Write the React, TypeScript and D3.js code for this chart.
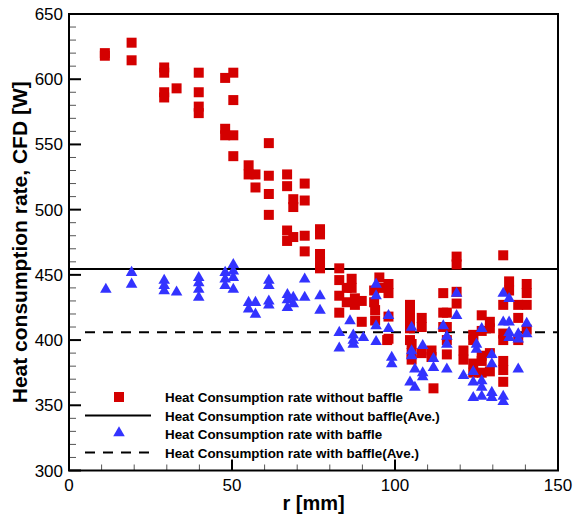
import React, { useEffect, useRef } from 'react';
import * as d3 from 'd3';

// [r (mm), heat consumption rate (W)]
const withoutBaffle: [number, number][] = [
  [11, 618], [11, 620], [19.2, 628], [19.2, 614.5],
  [29.2, 609], [29.2, 605], [29.2, 590], [29.2, 586], [33, 593],
  [39.8, 605], [39.8, 590], [39.8, 579], [39.8, 574],
  [47.9, 601], [47.9, 562], [47.9, 557],
  [50.4, 605], [50.4, 584], [50.4, 557], [50.4, 541],
  [55.1, 534], [55.1, 527], [57.2, 527], [57.2, 517],
  [61.3, 551], [61.3, 526], [61.3, 512], [61.3, 496],
  [66.9, 527], [66.9, 518], [66.9, 484], [66.9, 476],
  [68.8, 508], [68.8, 502], [68.8, 479],
  [72.3, 520], [72.3, 507], [72.3, 480], [72.3, 468],
  [77, 485], [77, 481], [77, 466], [77, 460], [77, 455],
  [82.9, 455], [82.9, 446], [82.9, 434], [82.9, 421],
  [85.2, 440], [85.2, 429], [86.7, 447], [86.7, 440], [87.7, 432], [87.7, 427],
  [89.8, 430], [89.8, 414], [93.6, 438], [93.6, 429], [93.9, 423], [93.9, 415],
  [95.2, 448], [95.2, 440], [98, 443], [98, 436], [98, 418], [98, 401], [97.6, 400],
  [104.6, 427], [104.6, 421], [104.6, 414], [104.6, 409], [104.6, 400],
  [105.1, 397], [105.1, 390], [105.1, 385],
  [108.2, 417], [108.2, 410], [108.2, 390], [111.2, 392], [111.2, 387], [111.8, 363],
  [114.8, 436], [114.8, 421], [114.8, 410],
  [115.9, 421], [115.9, 410], [115.9, 400], [115.9, 389],
  [118.9, 464], [118.9, 458], [118.9, 437], [118.9, 428],
  [121, 392], [121, 385], [124, 404], [124, 400], [124, 382], [124, 375],
  [126.6, 419], [126.6, 407], [126.6, 388], [126.6, 384], [126.6, 375],
  [129.1, 414], [129.1, 409], [129.1, 390], [129.1, 376],
  [133.2, 465], [133.2, 427], [133.2, 405], [133.2, 400], [133.2, 384], [133.2, 377], [133.2, 368],
  [135, 445], [135, 438], [137.8, 427], [137.8, 417], [137.8, 400],
  [140.4, 443], [140.4, 436], [140.4, 427], [140.4, 408],
];

const withBaffle: [number, number][] = [
  [11.3, 438], [19.2, 451], [19.2, 442],
  [29.2, 445], [29.2, 441], [29.2, 437], [33, 436],
  [39.8, 447], [39.8, 443], [39.8, 438], [39.8, 432],
  [47.9, 451], [47.9, 446], [47.9, 441],
  [50.4, 457], [50.4, 452], [50.4, 447], [50.4, 438],
  [55.1, 428], [55.1, 423], [57.2, 428], [57.2, 419],
  [61.3, 445], [61.3, 441], [61.3, 429], [61.3, 426],
  [67, 434], [67, 430], [67, 424], [68.8, 432], [68.8, 427],
  [72.3, 446], [72.3, 432], [77, 433], [77, 422],
  [82.9, 405], [82.9, 393], [86.2, 414], [87.2, 403], [87.2, 399], [87.2, 396], [90.3, 401],
  [94.2, 442], [94.2, 433], [94.2, 410], [94.2, 398],
  [98, 418], [98, 408], [99, 386], [99, 381],
  [104.6, 367], [105.1, 409], [105.1, 391], [105.1, 387], [106.1, 377], [106.1, 363],
  [108.5, 395], [108.5, 374], [108.5, 371], [111.8, 385], [111.8, 378],
  [114.8, 410], [115.9, 402], [115.9, 396], [115.9, 377],
  [118.9, 435], [118.9, 418], [121, 372],
  [124, 375], [124, 367], [124, 355], [125, 396], [125, 392],
  [126.6, 408], [126.6, 368], [126.6, 363], [126.6, 356],
  [129.7, 388], [129.7, 381], [129.7, 359], [129.7, 355],
  [133.2, 435], [133.2, 413], [133.2, 356], [133.2, 352],
  [135, 431], [135, 413], [135, 405], [135, 401],
  [137.8, 404], [137.8, 400], [137.8, 377], [140.4, 412], [140.4, 404],
];

const withoutBaffleAve = 454.5;
const withBaffleAve = 406;

const xMajor = [0, 50, 100, 150];
const yMajor = [300, 350, 400, 450, 500, 550, 600, 650];

const legendLabels = [
  'Heat Consumption rate without baffle',
  'Heat Consumption rate without baffle(Ave.)',
  'Heat Consumption rate with baffle',
  'Heat Consumption rate with baffle(Ave.)',
];

const RED = '#d40000';
const BLUE = '#3333ff';

const App = () => {
  const ref = useRef<SVGSVGElement>(null);

  useEffect(() => {
    document.body.style.margin = '0';
    const width = 573;
    const height = 516;
    const margin = { top: 14, right: 15, bottom: 45.5, left: 69 };

    const svg = d3.select(ref.current);
    svg.selectAll('*').remove();

    const x = d3.scaleLinear().domain([0, 150]).range([margin.left, width - margin.right]);
    const y = d3.scaleLinear().domain([300, 650]).range([height - margin.bottom, margin.top]);

    const font = 'Arial, "Liberation Sans", sans-serif';

    // minor ticks (inward)
    const xMinor = d3.range(0, 151, 10).filter(v => v % 50 !== 0);
    const yMinor = d3.range(300, 651, 10).filter(v => v % 50 !== 0);

    svg.append('g').selectAll('line').data(xMinor).enter().append('line')
      .attr('x1', d => x(d)).attr('x2', d => x(d))
      .attr('y1', y(300)).attr('y2', y(300) - 6)
      .attr('stroke', '#555').attr('stroke-width', 1);
    svg.append('g').selectAll('line').data(yMinor).enter().append('line')
      .attr('x1', x(0)).attr('x2', x(0) + 7)
      .attr('y1', d => y(d)).attr('y2', d => y(d))
      .attr('stroke', '#555').attr('stroke-width', 1);

    // major ticks
    svg.append('g').selectAll('line').data(xMajor).enter().append('line')
      .attr('x1', d => x(d)).attr('x2', d => x(d))
      .attr('y1', y(300)).attr('y2', y(300) - 11)
      .attr('stroke', '#000').attr('stroke-width', 2);
    svg.append('g').selectAll('line').data(yMajor).enter().append('line')
      .attr('x1', x(0)).attr('x2', x(0) + 12)
      .attr('y1', d => y(d)).attr('y2', d => y(d))
      .attr('stroke', '#000').attr('stroke-width', 2);

    // tick labels
    svg.append('g').selectAll('text').data(xMajor).enter().append('text')
      .attr('x', d => x(d)).attr('y', y(300) + 20)
      .attr('text-anchor', 'middle')
      .attr('font-family', font).attr('font-size', 17)
      .text(d => d);
    svg.append('g').selectAll('text').data(yMajor).enter().append('text')
      .attr('x', x(0) - 6).attr('y', d => y(d) + 6)
      .attr('text-anchor', 'end')
      .attr('font-family', font).attr('font-size', 17)
      .text(d => d);

    // average lines
    svg.append('line')
      .attr('x1', x(0)).attr('x2', x(150))
      .attr('y1', y(withoutBaffleAve)).attr('y2', y(withoutBaffleAve))
      .attr('stroke', '#000').attr('stroke-width', 2);
    svg.append('line')
      .attr('x1', x(0) + 16).attr('x2', x(150))
      .attr('y1', y(withBaffleAve)).attr('y2', y(withBaffleAve))
      .attr('stroke', '#000').attr('stroke-width', 2)
      .attr('stroke-dasharray', '10,8');

    // markers
    const sq = 10;
    svg.append('g').selectAll('rect').data(withoutBaffle).enter().append('rect')
      .attr('x', d => x(d[0]) - sq / 2).attr('y', d => y(d[1]) - sq / 2)
      .attr('width', sq).attr('height', sq)
      .attr('fill', RED);

    const tri = d3.symbol().type(d3.symbolTriangle).size(58);
    svg.append('g').selectAll('path').data(withBaffle).enter().append('path')
      .attr('d', tri)
      .attr('transform', d => `translate(${x(d[0])},${y(d[1]) - 1})`)
      .attr('fill', BLUE);

    // frame
    svg.append('rect')
      .attr('x', x(0)).attr('y', y(650))
      .attr('width', x(150) - x(0)).attr('height', y(300) - y(650))
      .attr('fill', 'none').attr('stroke', '#000').attr('stroke-width', 2);

    // legend
    const lg = svg.append('g');
    const rowY = [397, 415.5, 434, 452.5];
    lg.append('rect').attr('x', 119 - sq / 2).attr('y', rowY[0] - sq / 2)
      .attr('width', sq).attr('height', sq).attr('fill', RED);
    lg.append('line').attr('x1', 85).attr('x2', 151).attr('y1', rowY[1]).attr('y2', rowY[1])
      .attr('stroke', '#000').attr('stroke-width', 2);
    lg.append('path').attr('d', tri).attr('transform', `translate(119,${rowY[2] - 1})`).attr('fill', BLUE);
    lg.append('line').attr('x1', 85).attr('x2', 151).attr('y1', rowY[3]).attr('y2', rowY[3])
      .attr('stroke', '#000').attr('stroke-width', 2).attr('stroke-dasharray', '10,8');
    lg.selectAll('text').data(legendLabels).enter().append('text')
      .attr('x', 165).attr('y', (d, i) => rowY[i] + 5)
      .attr('font-family', font).attr('font-size', 13.4).attr('font-weight', 'bold')
      .text(d => d);

    // axis titles
    svg.append('text')
      .attr('x', (x(0) + x(150)) / 2).attr('y', 510)
      .attr('text-anchor', 'middle')
      .attr('font-family', font).attr('font-size', 20).attr('font-weight', 'bold')
      .text('r [mm]');
    svg.append('text')
      .attr('transform', `translate(27,${(y(300) + y(650)) / 2}) rotate(-90)`)
      .attr('text-anchor', 'middle')
      .attr('font-family', font).attr('font-size', 21).attr('font-weight', 'bold')
      .text('Heat consumption rate, CFD [W]');
  }, []);

  return <svg ref={ref} width={573} height={516} style={{ display: 'block' }}></svg>;
};

export default App;
